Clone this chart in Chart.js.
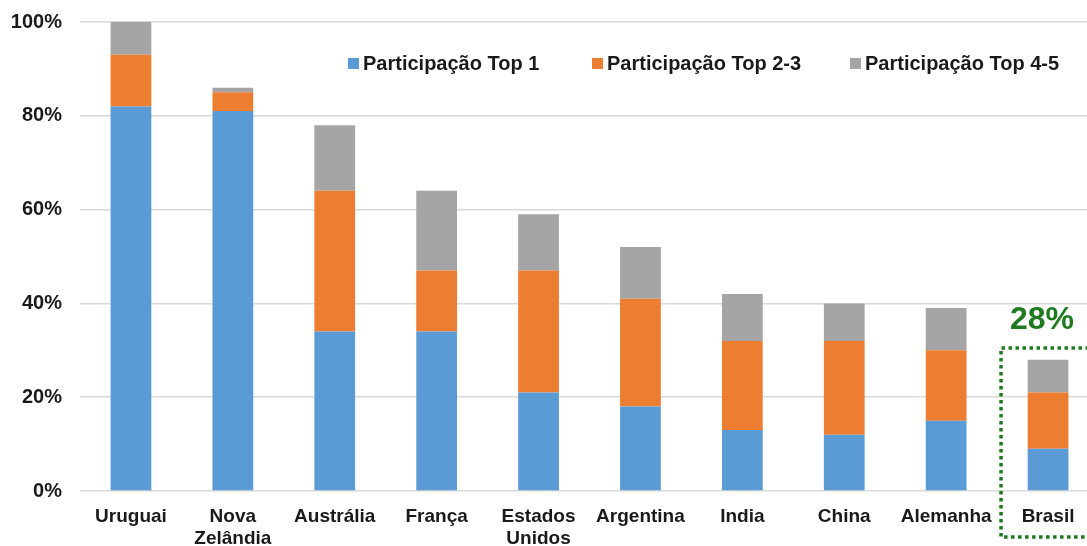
<!DOCTYPE html>
<html>
<head>
<meta charset="utf-8">
<script src="https://cdn.jsdelivr.net/npm/chart.js@4"></script>
<style>
  html, body { margin: 0; padding: 0; background: #fff; overflow: hidden; }
  #wrap { width: 1100px; height: 546px; position: relative; }
</style>
</head>
<body>
<div id="wrap"><canvas id="partChart"></canvas></div>
<script>
// categorias (países)
const paises = ['Uruguai', ['Nova', 'Zelândia'], 'Austrália', 'França', ['Estados', 'Unidos'],
  'Argentina', 'India', 'China', 'Alemanha', 'Brasil'];

// participação (%) por faixa
const top1 = [82, 81, 34, 34, 21, 18, 13, 12, 15, 9];
const top23 = [11, 4, 30, 13, 26, 23, 19, 20, 15, 12];
const top45 = [7, 1, 14, 17, 12, 11, 10, 8, 9, 7];

const nomesSeries = ['Participação Top 1', 'Participação Top 2-3', 'Participação Top 4-5'];
const yTicks = [0, 20, 40, 60, 80, 100];

const cores = ['#5B9BD5', '#ED7D31', '#A5A5A5'];
const verde = '#1F7A1F';
const fonte = '"Liberation Sans", Arial, sans-serif';

// legenda desenhada dentro da área do gráfico
const legendaPlugin = {
  id: 'legendaInterna',
  afterDraw(chart) {
    const ctx = chart.ctx;
    const inicio = [348, 592, 850];
    ctx.save();
    ctx.font = 'bold 20px ' + fonte;
    ctx.textBaseline = 'middle';
    ctx.textAlign = 'left';
    nomesSeries.forEach((nome, i) => {
      ctx.fillStyle = cores[i];
      ctx.fillRect(inicio[i], 58, 11, 11);
      ctx.fillStyle = '#1a1a1a';
      ctx.fillText(nome, inicio[i] + 15, 64);
    });
    ctx.restore();
  }
};

// destaque do Brasil: caixa pontilhada + total
const destaquePlugin = {
  id: 'destaqueBrasil',
  afterDraw(chart) {
    const ctx = chart.ctx;
    const x = chart.scales.x, y = chart.scales.y;
    const i = paises.length - 1;
    const total = top1[i] + top23[i] + top45[i];
    const cx = x.getPixelForValue(i);
    const esquerda = cx - 47;
    const topo = y.getPixelForValue(total + 2.5);
    const base = chart.height - 9;
    ctx.save();
    ctx.strokeStyle = verde;
    ctx.lineWidth = 3.5;
    ctx.setLineDash([3.5, 3.5]);
    ctx.beginPath();
    ctx.moveTo(chart.width + 10, topo);
    ctx.lineTo(esquerda, topo);
    ctx.lineTo(esquerda, base);
    ctx.lineTo(chart.width + 10, base);
    ctx.stroke();
    ctx.setLineDash([]);
    ctx.fillStyle = verde;
    ctx.font = 'bold 32px ' + fonte;
    ctx.textAlign = 'center';
    ctx.textBaseline = 'middle';
    ctx.fillText(total + '%', cx - 6, y.getPixelForValue(total + 8.5));
    ctx.restore();
  }
};

const ctx = document.getElementById('partChart').getContext('2d');

new Chart(ctx, {
  type: 'bar',
  data: {
    labels: paises,
    datasets: [top1, top23, top45].map((dados, i) => ({
      label: nomesSeries[i],
      data: dados,
      backgroundColor: cores[i],
      borderWidth: 0,
      barPercentage: 0.4,
      categoryPercentage: 1.0
    }))
  },
  options: {
    responsive: true,
    maintainAspectRatio: false,
    animation: false,
    layout: { padding: { top: 22, right: 1, left: 0, bottom: 0 } },
    plugins: {
      legend: { display: false },
      tooltip: { enabled: false }
    },
    scales: {
      x: {
        stacked: true,
        grid: { display: false },
        border: { display: false },
        ticks: {
          color: '#1a1a1a',
          padding: 7,
          maxRotation: 0,
          autoSkip: false,
          font: { family: fonte, size: 19, weight: 'bold', lineHeight: 1.15 }
        },
        afterFit(scale) {
          scale.height = 55;
          scale.paddingTop = 0;
          scale.paddingBottom = 0;
        }
      },
      y: {
        stacked: true,
        min: 0,
        max: 100,
        afterBuildTicks(scale) { scale.ticks = yTicks.map(v => ({ value: v })); },
        grid: { color: '#d9d9d9', lineWidth: 1.5, drawTicks: false },
        border: { display: false },
        ticks: {
          color: '#1a1a1a',
          padding: 18,
          font: { family: fonte, size: 20, weight: 'bold' },
          callback: v => v + '%'
        },
        afterFit(scale) {
          scale.width = 80;
          scale.paddingTop = 0;
          scale.paddingBottom = 0;
        }
      }
    }
  },
  plugins: [legendaPlugin, destaquePlugin]
});
</script>
</body>
</html>
